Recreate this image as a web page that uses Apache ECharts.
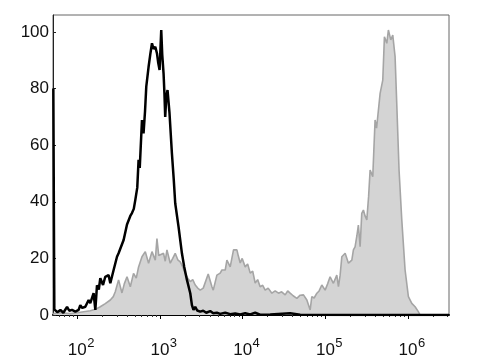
<!DOCTYPE html>
<html>
<head>
<meta charset="utf-8">
<script src="https://cdn.jsdelivr.net/npm/echarts@6/dist/echarts.min.js"></script>
<style>
html,body{margin:0;padding:0;background:#fff;}
#chart{width:480px;height:360px;}
</style>
</head>
<body>
<div id="chart"></div>
<script>
// x values are log10 of fluorescence intensity
var blackLog = [1.710,1.722,1.758,1.795,1.831,1.876,1.903,1.936,1.976,2.016,2.036,2.060,2.097,2.137,2.157,2.178,2.197,2.218,2.238,2.260,2.278,2.311,2.338,2.378,2.399,2.439,2.480,2.499,2.520,2.560,2.601,2.641,2.661,2.683,2.701,2.725,2.741,2.755,2.782,2.801,2.819,2.834,2.862,2.882,2.903,2.922,2.943,2.963,2.979,2.995,3.007,3.015,3.027,3.043,3.054,3.063,3.076,3.091,3.115,3.144,3.166,3.184,3.224,3.265,3.293,3.326,3.366,3.386,3.405,3.426,3.450,3.486,3.523,3.559,3.607,3.644,3.688,3.728,3.789,3.849,3.909,3.970,4.030,4.091,4.151,4.211,4.332,4.574,4.598,4.695,5.299,6.495];
var blackCount = [80,2,1,1.8,0.8,2.9,1.5,1.8,1.2,1.8,3.5,2.5,2.9,5.3,4.2,4.1,7.7,1.8,10.5,9,13,10.6,13.5,14.1,11.2,15.9,20.6,21.8,22.4,26.5,32,35,36,37.5,40.6,45,54.8,52,68.9,64.2,72,80.7,87.7,92,96,94,94.8,92.5,89,86.6,95,100.7,92,85.4,78,70,77,79.5,71.3,57.1,48,39.5,31.2,21.8,17,12.4,7.7,3.5,1.8,2.9,1.6,1.2,1.5,0.8,1.4,0.6,0.8,0.4,0.8,0.3,0.5,0.2,0.6,0.2,0.8,0.1,0.2,0.6,0.1,0.1,0,0];

var grayLog = [1.710,1.795,1.915,2.036,2.157,2.218,2.278,2.338,2.399,2.435,2.459,2.499,2.540,2.568,2.601,2.641,2.680,2.713,2.741,2.782,2.822,2.862,2.903,2.943,2.963,2.985,3.003,3.043,3.063,3.084,3.124,3.154,3.184,3.215,3.245,3.275,3.305,3.335,3.366,3.396,3.426,3.456,3.486,3.523,3.547,3.583,3.628,3.644,3.688,3.728,3.749,3.789,3.809,3.849,3.889,3.930,3.946,3.970,3.994,4.030,4.060,4.091,4.121,4.151,4.181,4.211,4.242,4.272,4.308,4.353,4.393,4.433,4.471,4.514,4.544,4.574,4.610,4.655,4.695,4.735,4.776,4.816,4.836,4.864,4.897,4.924,4.957,4.997,5.027,5.057,5.097,5.138,5.158,5.178,5.199,5.218,5.239,5.279,5.320,5.339,5.359,5.381,5.399,5.420,5.440,5.460,5.480,5.501,5.523,5.541,5.573,5.601,5.619,5.641,5.662,5.694,5.714,5.743,5.762,5.791,5.815,5.843,5.863,5.891,5.924,5.964,6.004,6.045,6.085,6.124,6.145,6.495];
var grayCount = [0.5,0.8,0.5,1,1.5,2,2.9,4,5.3,6.5,8.2,12.4,7.8,11,13.5,10,14.7,13,17,20.6,22.4,18.3,22.4,19.4,27,21,20.6,21.8,19,23,18.3,20,21.8,19.5,18.8,17,14.7,13,11.8,12.5,10.6,9.5,8.8,9.5,8.8,14.5,10,8.8,14.1,14.8,15.9,15.9,19.4,17,23,23,21,18.4,20,17,18,14.8,15.5,11.3,12.5,10,10.5,8.8,9.5,7.7,8.5,7.7,8.2,7.1,8.5,7.7,6.8,5.9,7,7.1,5.3,1.8,6.5,6,7.7,8.5,10.6,8.8,11,13.5,11.2,14.1,10,14,20.6,21.2,21.8,18.3,19.4,23,24.1,28,31.8,24.1,35.9,37.1,35,33.6,42,51.2,48.9,68.9,66,65.4,78.3,83,98.3,96,100.7,97.2,98.9,91.3,74.8,51.2,33.6,15.9,6.5,4.1,2.9,1.2,0,0];

var xTickExponents = [2,3,4,5,6];
var yTickValues = [0,20,40,60,80,100];

function pairs(xs, ys){ return xs.map(function(x,i){ return [x, ys[i]]; }); }

var minorTicks = [];
for (var d = 1; d <= 6; d++) {
  for (var k = 2; k <= 9; k++) {
    var v = d + Math.log10(k);
    if (v > 1.706 && v < 6.495) minorTicks.push(v);
  }
}

var chart = echarts.init(document.getElementById('chart'), null, {renderer:'canvas'});
var font = 'Liberation Sans, Arial, sans-serif';
chart.setOption({
  animation: false,
  backgroundColor: '#fff',
  grid: {left: 53, right: 31, top: 15, bottom: 45, show: true, borderColor: '#666', borderWidth: 1},
  xAxis: [{
    type: 'value', min: 1.706, max: 6.495,
    axisLine: {show: true, lineStyle: {color: '#000', width: 2}},
    axisTick: {show: true, customValues: xTickExponents, length: 4, lineStyle: {color: '#000', width: 1}},
    splitLine: {show: false},
    axisLabel: {
      customValues: xTickExponents,
      margin: 17,
      formatter: function(v){ return '{p|}{b|10}{s|' + Math.round(v) + '}'; },
      rich: {
        p: {width: 8},
        b: {fontSize: 17, fontFamily: font, color: '#111', padding: [10,0,0,0]},
        s: {fontSize: 13, fontFamily: font, color: '#111', width: 8, padding: [0,0,4,0]}
      }
    }
  }, {
    type: 'value', min: 1.706, max: 6.495, position: 'bottom',
    axisLine: {show: false},
    axisTick: {show: true, customValues: minorTicks, length: 2, lineStyle: {color: '#333', width: 1}},
    axisLabel: {show: false},
    splitLine: {show: false}
  }],
  yAxis: {
    type: 'value', min: 0, max: 106,
    axisLine: {show: true, lineStyle: {color: '#222', width: 1}},
    axisTick: {show: true, inside: true, length: 3, customValues: yTickValues, lineStyle: {color: '#222'}},
    splitLine: {show: false},
    axisLabel: {customValues: yTickValues, margin: 4, fontSize: 17, fontFamily: font, color: '#111'}
  },
  series: [{
    type: 'line', data: pairs(grayLog, grayCount), symbol: 'none', xAxisIndex: 0,
    lineStyle: {color: '#a5a5a5', width: 1.6},
    areaStyle: {color: '#d4d4d4', opacity: 1},
    z: 2
  }, {
    type: 'line', data: pairs(blackLog, blackCount), symbol: 'none', xAxisIndex: 0,
    lineStyle: {color: '#000', width: 2.5},
    z: 3
  }]
});
</script>
</body>
</html>
